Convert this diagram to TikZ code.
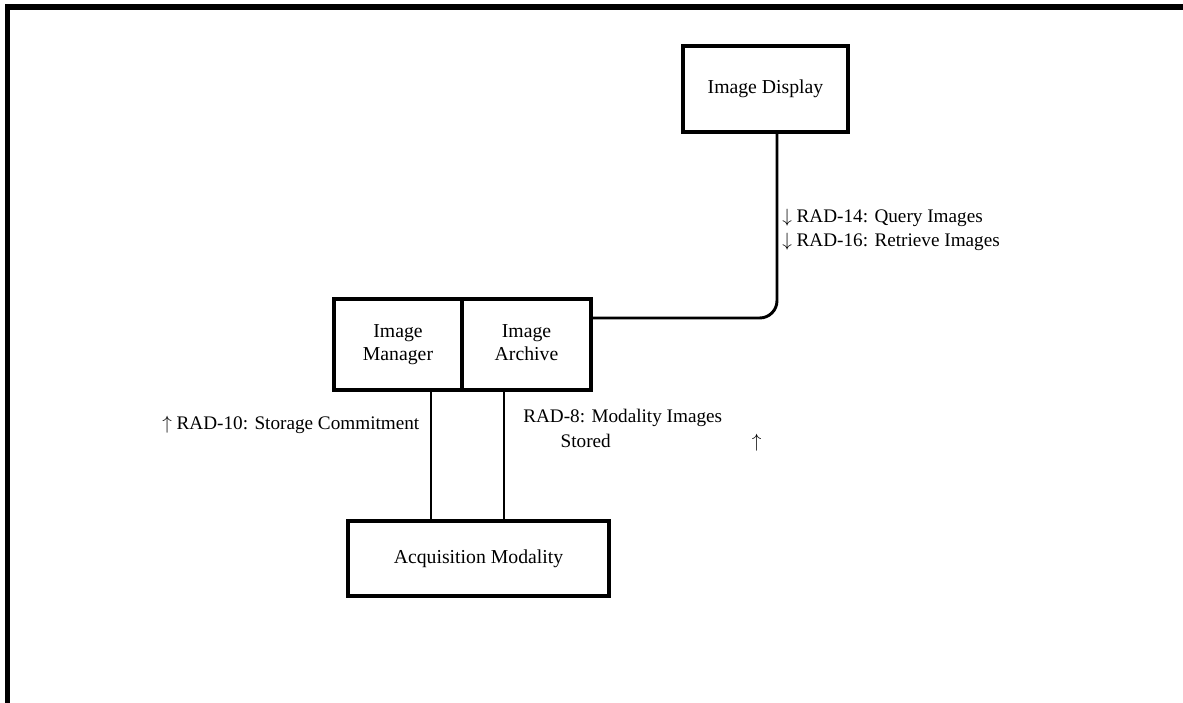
\documentclass[tikz,border=0pt]{standalone}
\usepackage{fontspec}
\setmainfont{Liberation Serif}
\usetikzlibrary{positioning}

\tikzset{
  actor/.style={draw, line width=3pt, align=center, inner sep=2pt,
    font=\fontsize{14.8}{17.5}\selectfont},
  link/.style={line width=2.2pt},
  note/.style={anchor=west, align=left, inner sep=0pt,
    font=\fontsize{14.4}{18.5}\selectfont}
}
\newcommand{\dn}{$\downarrow$}
\newcommand{\up}{$\uparrow$}

\begin{document}
\begin{tikzpicture}[x=0.75pt, y=-0.75pt]
    % Page frame
    \useasboundingbox (0,0) rectangle (1183,703);
    \draw[line width=3.8pt] (7.5,703) -- (7.5,7) -- (1183,7);

    % Actors
    \node[actor, minimum width=124pt, minimum height=64.5pt] (disp) at (765.5,89) {Image Display};
    \node[actor, minimum width=96pt, minimum height=68pt] (mgr) at (398,344.5) {Image\\Manager};
    \node[actor, minimum width=96.75pt, minimum height=68pt, right=-3pt of mgr] (arch) {Image\\Archive\vphantom{g}};
    \node[actor, minimum width=196pt, minimum height=56pt] (acq) at (478.5,558.5) {Acquisition Modality};

    % Transactions
    \coordinate (bend) at (777,318);
    \coordinate (ml) at (431,0);
    \coordinate (al) at (504,0);
    \draw[link, rounded corners=13pt] (arch.east |- bend) -- (bend) -- (disp.south -| bend);
    \draw[link] (mgr.south -| ml) -- (acq.north -| ml);
    \draw[link] (arch.south -| al) -- (acq.north -| al);

    % Labels
    \node[note] (q) at (782,230) {\dn{} RAD-14: Query Images\\\dn{} RAD-16: Retrieve Images};
    \node[note] (sc) at (162,425) {\up{} RAD-10: Storage Commitment};
    \node[note] (ms) at (523,430) {RAD-8: Modality Images\\\hspace*{1.95em}Stored\hspace{7.35em}\up};
\end{tikzpicture}
\end{document}
